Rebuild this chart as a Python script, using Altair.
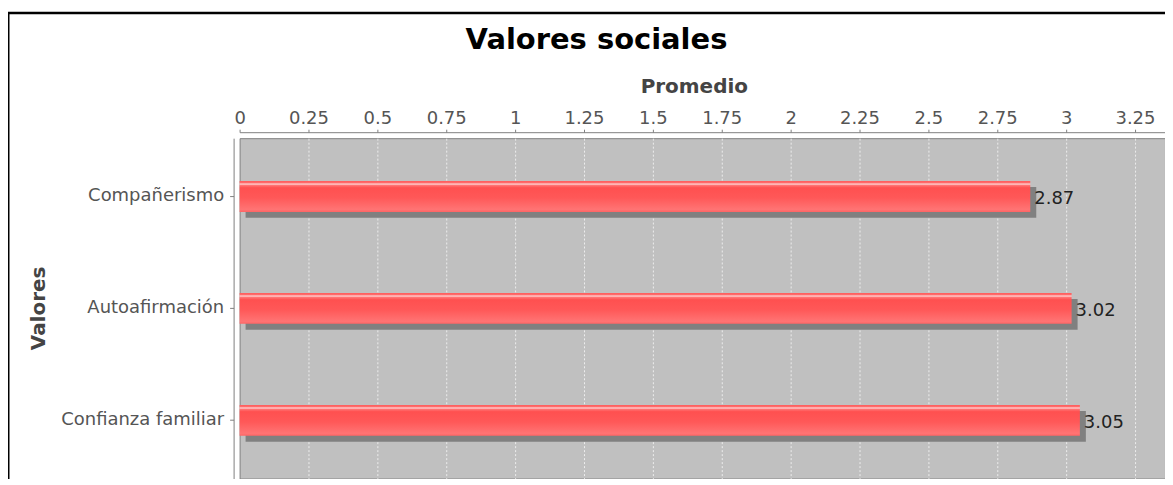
import altair as alt
import pandas as pd

categories = ["Compañerismo", "Autoafirmación", "Confianza familiar"]
values = [2.87, 3.02, 3.05]
tick_values = [0, 0.25, 0.5, 0.75, 1, 1.25, 1.5, 1.75, 2, 2.25, 2.5, 2.75, 3, 3.25]
chart_title = ["Valores sociales"]

df = pd.DataFrame({"Valores": categories, "Promedio": values})
title_df = pd.DataFrame({"t": chart_title})

FONT = "DejaVu Sans"
W, H = 927, 341

xscale = alt.Scale(domain=[0, 3.359], nice=False, zero=True)
yscale = alt.Scale(paddingOuter=0.02, paddingInner=0)

xaxis = alt.Axis(
    orient="top", title="Promedio", values=tick_values, format=".2~f",
    offset=6, grid=True, gridColor="#f2f2f2", gridDash=[2, 2], gridWidth=1,
    gridOpacity={"condition": {"test": "datum.value === 0", "value": 0}, "value": 0.9},
    domainColor="#808080", tickColor="#808080", tickSize=3,
    labelFont=FONT, labelFontSize=18, labelColor="#555555", labelPadding=6,
    labelBaseline="alphabetic", labelFlush=False, labelOverlap=False,
    titleFont=FONT, titleFontSize=20, titleFontWeight="bold", titleColor="#444444",
    titleX=455, titleY=-40, titleAlign="center", titleBaseline="alphabetic",
)
yaxis = alt.Axis(
    orient="left", title="Valores", offset=6,
    domainColor="#808080", tickColor="#808080", tickSize=4,
    labelFont=FONT, labelFontSize=18, labelColor="#555555", labelPadding=6,
    titleFont=FONT, titleFontSize=20, titleFontWeight="bold", titleColor="#444444",
    titleX=-195, titleY=170, titleAngle=270, titleBaseline="middle", titleAlign="center",
)

base = alt.Chart(df).encode(
    y=alt.Y("Valores:N", sort=categories, scale=yscale, axis=yaxis),
)

shadow = base.mark_bar(
    color="#808080", size=31, xOffset=6, x2Offset=6, yOffset=6, y2Offset=6
).encode(
    x=alt.X("Promedio:Q", scale=xscale, axis=xaxis),
)

bar_grad = alt.Gradient(
    gradient="linear", x1=0, x2=0, y1=0, y2=1,
    stops=[
        alt.GradientStop(offset=0, color="#ff5a5a"),
        alt.GradientStop(offset=0.07, color="#ff7070"),
        alt.GradientStop(offset=0.1, color="#fff0f0"),
        alt.GradientStop(offset=0.13, color="#ff7a7a"),
        alt.GradientStop(offset=0.22, color="#ff5050"),
        alt.GradientStop(offset=0.55, color="#ff5858"),
        alt.GradientStop(offset=0.92, color="#ff7474"),
        alt.GradientStop(offset=1, color="#ff6464"),
    ],
)
bars = base.mark_bar(color=bar_grad, size=31).encode(
    x=alt.X("Promedio:Q", scale=xscale, axis=xaxis),
)

labels = base.mark_text(
    align="left", baseline="alphabetic", dx=4, dy=8,
    font=FONT, fontSize=18, color="#222222",
).encode(
    x=alt.X("Promedio:Q", scale=xscale, axis=xaxis),
    text=alt.Text("Promedio:Q", format=".2f"),
)

title_mark = alt.Chart(title_df).mark_text(
    font=FONT, fontSize=29, fontWeight="bold", color="black",
    align="center", baseline="alphabetic",
).encode(
    text="t:N", x=alt.value(357.5), y=alt.value(-89),
)

frame_top = alt.Chart(title_df).mark_rule(color="black", strokeWidth=2.5).encode(
    x=alt.value(-240), x2=alt.value(W + 40), y=alt.value(-125.5)
)
frame_left = alt.Chart(title_df).mark_rule(color="black", strokeWidth=2).encode(
    x=alt.value(-231.5), y=alt.value(-126.5), y2=alt.value(H + 40)
)

chart = alt.layer(shadow, bars, labels, title_mark, frame_top, frame_left).properties(
    width=W, height=H,
    autosize=alt.AutoSizeParams(type="none"),
    padding={"left": 232, "top": 130, "right": 0, "bottom": 0},
    background="white",
).configure_view(
    fill="#c0c0c0", stroke="#808080", strokeWidth=1,
)

chart.save("out.html", embed_options={"renderer": "svg", "actions": False})
